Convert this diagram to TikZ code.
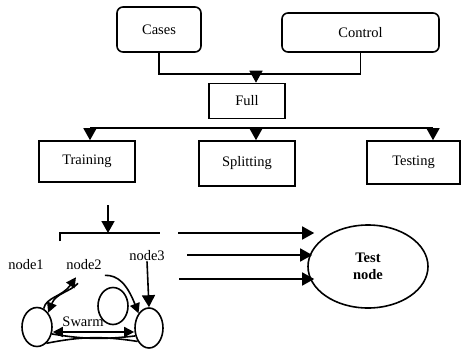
\documentclass[tikz,border=0pt]{standalone}
\usepackage{fontspec}
\setmainfont{Liberation Serif}
\usetikzlibrary{positioning,arrows.meta,calc,shapes.geometric}
\newcommand{\fs}{\fontsize{14.5pt}{17pt}\selectfont}
\tikzset{
  rbox/.style={draw, line width=1.6pt, rounded corners=6pt, inner sep=0pt, align=center},
  sbox/.style={draw, line width=1.6pt, inner sep=0pt, align=center},
  ell/.style={draw, ellipse, line width=1.6pt, inner sep=0pt},
  arr/.style={-{Triangle[length=12pt,width=13pt]}, line width=1.6pt},
  sarr/.style={-{Triangle[length=10pt,width=10pt]}, line width=1.6pt},
  dsarr/.style={{Triangle[length=10pt,width=10pt]}-{Triangle[length=10pt,width=10pt]}, line width=1.6pt},
  ln/.style={line width=1.6pt},
  lab/.style={inner sep=0pt},
}
\begin{document}
\begin{tikzpicture}[x=1pt, y=-1pt, font=\fs]
  \useasboundingbox (0,0) rectangle (461,349);
  % top row
  \node[rbox, minimum width=84pt, minimum height=45pt] (cases) at (159,29.5) {Cases};
  \node[rbox, minimum width=157pt, minimum height=39pt] (ctrl) at (360.5,32.5) {Control};
  \node[sbox, minimum width=76pt, minimum height=35pt] (full) at (247,101) {Full};
  \coordinate (jn) at (256,74);
  \draw[ln] (cases.south) |- (jn) -| (ctrl.south);
  \draw[arr] (jn) -- (jn |- full.north);
  % second row
  \node[sbox, minimum width=96pt, minimum height=41pt] (train) at (87,161.5) {Training};
  \node[sbox, minimum width=96pt, minimum height=45pt] (split) at (247,163.5) {Splitting};
  \node[sbox, minimum width=93pt, minimum height=43pt] (test) at (413.5,162.5) {Testing};
  \coordinate (sp) at (256,128);
  \coordinate (tl) at (90,128);
  \coordinate (tr) at (433,128);
  \draw[ln] (tl) -- (tr);
  \draw[arr] (tl) -- (tl |- train.north);
  \draw[arr] (sp) -- (sp |- split.north);
  \draw[arr] (tr) -- (tr |- test.north);
  % swarm
  \coordinate (in) at (108,205);
  \coordinate (br) at (108,233);
  \draw[ln] (60,241) -- (60,233) -- (160,233);
  \draw[arr] (in) -- (br);
  \node[lab] (n1) at (26,265) {node1};
  \node[lab] (n2) at (84,265) {node2};
  \node[lab] (n3) at (147,256) {node3};
  \node[ell, minimum width=30pt, minimum height=39pt] (c1) at (37,327) {};
  \node[ell, minimum width=30pt, minimum height=37pt] (c2) at (113,306) {};
  \node[ell, minimum width=28pt, minimum height=40pt] (c3) at (149,328) {};
  \node[lab] (sw) at (83,322) {Swarm};
  \draw[sarr] (c1.70) .. controls (46,297) and (62,297) .. ([shift={(-8,7)}]n2.south);
  \draw[sarr] ([shift={(-6,13)}]n2.south) .. controls (70,292) and (56,293) .. (c1.north east);
  \draw[sarr] ([shift={(3,5)}]n2.south east) .. controls (118,275) and (127,284) .. (c3.north west);
  \draw[arr] (n3.south) -- (c3.north);
  \draw[dsarr] (c1.east |- 0,332) -- (c3.west |- 0,332);
  \draw[ln] (c1.-60) to[bend left=10] (c3.-130);
  \draw[ln] (c1.-25) to[bend right=8] (c3.-150);
  % test node
  \node[ell, minimum width=120pt, minimum height=83pt, align=center, font=\fs\bfseries] (tn) at (368,266.5) {Test\\node};
  \coordinate (a1) at (178,233);
  \coordinate (a2) at (187,255);
  \coordinate (a3) at (179,279);
  \draw[arr] (a1) -- ([xshift=7pt]a1 -| tn.west);
  \draw[arr] (a2) -- ([xshift=5pt]a2 -| tn.west);
  \draw[arr] (a3) -- ([xshift=7pt]a3 -| tn.west);
\end{tikzpicture}
\end{document}
